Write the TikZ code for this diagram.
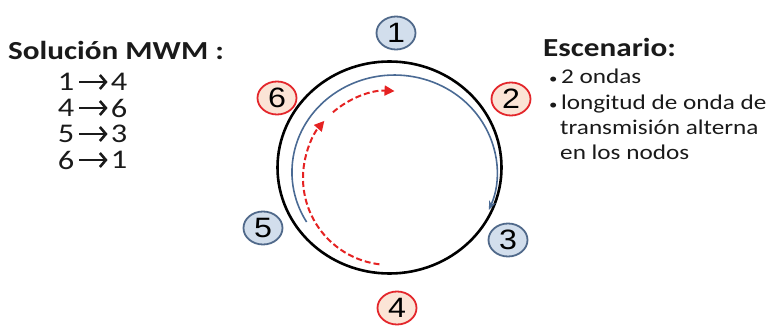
\documentclass[tikz,border=0pt]{standalone}
\usepackage{fontspec}
\setmainfont{Carlito}[FakeStretch=1.2]
\newfontfamily\digitfont{Liberation Sans}[FakeStretch=1.15]
\usetikzlibrary{arrows.meta,shapes.geometric}
\definecolor{bluefill}{HTML}{D2DEEC}
\definecolor{blueedge}{HTML}{50698A}
\definecolor{redfill}{HTML}{FBE4D6}
\definecolor{rededge}{HTML}{E3262B}
\definecolor{arcblue}{HTML}{4A6A94}
\definecolor{arcred}{HTML}{E52222}
\definecolor{textdark}{HTML}{1A1A1A}
\tikzset{
  wnode/.style={ellipse, draw, line width=1.8pt, minimum width=39pt, minimum height=33pt, inner sep=0pt, font=\digitfont\fontsize{28}{28}\selectfont},
  bluenode/.style={wnode, fill=bluefill, draw=blueedge},
  rednode/.style={wnode, fill=redfill, draw=rededge},
  ringstyle/.style={ellipse, draw, line width=2.6pt, minimum width=224pt, minimum height=212pt, inner sep=0pt},
  bluearc/.style={arcblue, line width=1.6pt, -{Stealth[length=9pt,width=7pt]}},
  redarc/.style={arcred, line width=2pt, dash pattern=on 6pt off 3pt, -{Triangle[length=10pt,width=10pt]}},
  titletext/.style={anchor=base west, inner sep=0pt, text=textdark, font=\bfseries\fontsize{26}{30}\selectfont},
  bodytext/.style={anchor=base west, inner sep=0pt, text=textdark, font=\fontsize{21}{26}\selectfont},
  digit/.style={inner sep=0pt, text=textdark, font=\fontsize{27}{27}\selectfont},
  listarrow/.style={draw=textdark, line width=2.6pt, shorten <=5pt, shorten >=3pt, -{Straight Barb[length=6pt,width=14pt,line width=2.6pt]}}
}
\begin{document}
\begin{tikzpicture}[x=1pt,y=-1pt]
\useasboundingbox (0,0) rectangle (768,331);
% ring
\node[ringstyle] (ring) at (389.5,167.5) {};
% wavelength arcs
\coordinate (bstart) at (306.6,222);
\draw[bluearc] (bstart) arc[start angle=-211, end angle=23, x radius=102.5, y radius=97];
\coordinate (rstartA) at (379.4,264.3);
\draw[redarc] (rstartA) arc[start angle=-263, end angle=-139, radius=87];
\coordinate (rstartB) at (332.9,112.3);
\draw[redarc] (rstartB) arc[start angle=-131, end angle=-87, radius=87];
% nodes
\node[bluenode] (n1) at (396,33) {1};
\node[rednode]  (n2) at (511,99) {2};
\node[bluenode] (n3) at (508,240) {3};
\node[rednode]  (n4) at (397,308) {4};
\node[bluenode] (n5) at (263,228) {5};
\node[rednode]  (n6) at (277,98) {6};
% left text
\node[titletext] (sol) at (8,60) {Solución MWM :};
\node[digit] (l1a) at (66,82) {1};  \node[digit] (l1b) at (119,82) {4};
\node[digit] (l2a) at (66,108) {4}; \node[digit] (l2b) at (119,108) {6};
\node[digit] (l3a) at (66,134) {5}; \node[digit] (l3b) at (119,134) {3};
\node[digit] (l4a) at (66,160) {6}; \node[digit] (l4b) at (119,160) {1};
\draw[listarrow] (l1a) -- (l1b);
\draw[listarrow] (l2a) -- (l2b);
\draw[listarrow] (l3a) -- (l3b);
\draw[listarrow] (l4a) -- (l4b);
% right text
\node[titletext] (esc) at (543,57) {Escenario:};
\node[bodytext] (b1) at (549,84) {{\fontsize{14}{14}\selectfont\textbullet}\,2 ondas};
\node[bodytext] (b2) at (549,110) {{\fontsize{14}{14}\selectfont\textbullet}\,longitud de onda de};
\node[bodytext] (b3) at (560,135) {transmisión alterna};
\node[bodytext] (b4) at (560,160) {en los nodos};
\end{tikzpicture}
\end{document}
